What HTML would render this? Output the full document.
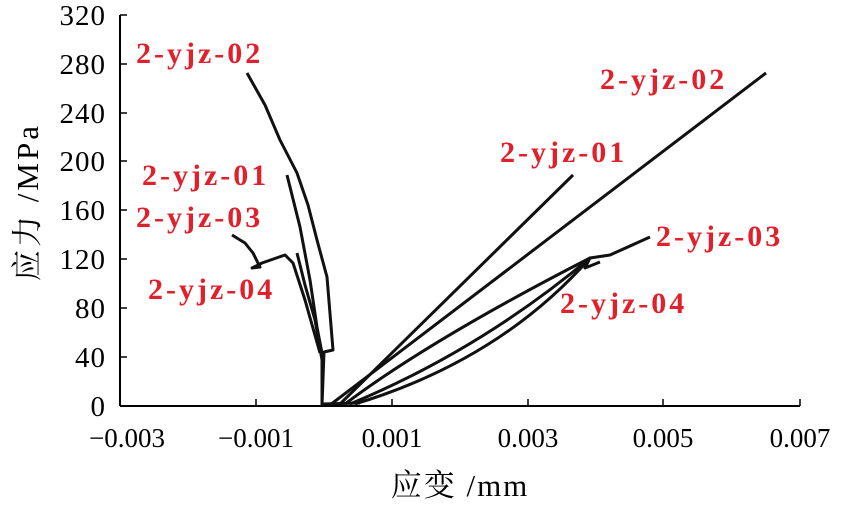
<!DOCTYPE html>
<html><head><meta charset="utf-8"><style>body{margin:0;background:#fff}</style></head><body>
<svg width="842" height="500" xmlns="http://www.w3.org/2000/svg" font-family="Liberation Serif, Noto Serif CJK SC, serif">
<g stroke="#000" stroke-width="2" fill="none">
<line x1="120" y1="15" x2="120" y2="406"/>
<line x1="120" y1="406" x2="800" y2="406"/>
<g stroke-width="1.5">
<line x1="120" y1="15" x2="127" y2="15"/><line x1="120" y1="64" x2="127" y2="64"/><line x1="120" y1="113" x2="127" y2="113"/><line x1="120" y1="161" x2="127" y2="161"/><line x1="120" y1="210" x2="127" y2="210"/><line x1="120" y1="259" x2="127" y2="259"/><line x1="120" y1="308" x2="127" y2="308"/><line x1="120" y1="357" x2="127" y2="357"/>
<line x1="256" y1="406" x2="256" y2="399"/><line x1="392" y1="406" x2="392" y2="399"/><line x1="528" y1="406" x2="528" y2="399"/><line x1="663" y1="406" x2="663" y2="399"/><line x1="800" y1="406" x2="800" y2="399"/>
</g>
</g>
<g stroke="#111" stroke-width="3" fill="none" stroke-linejoin="round">
<polyline points="247,73 265,105 280,140 297,173 308,205 317,240 327,277 333,350 324,352 322,406"/>
<polyline points="287,175 300,227 310,280 317,327 322,353 322,406"/>
<polyline points="232,235 245,243 253,253 260,267 252,268 262,263 285,255 293,263 305,300 320,353"/>
<polyline points="297,253 305,285 315,320 322,360"/>
<polyline points="322,404 360,403"/>
<polyline points="330,405 766,73"/>
<polyline points="340,404 573,175"/>
<path d="M345,404 Q430,340 590,258"/>
<path d="M350,404 Q480,350 590,258 L610,255 L650,237"/>
<path d="M355,404 Q500,360 590,258 L585,268 L600,262"/>
</g>
<g font-size="29" text-anchor="end" letter-spacing="1">
<text x="106" y="25">320</text><text x="106" y="74">280</text><text x="106" y="123">240</text><text x="106" y="171">200</text><text x="106" y="220">160</text><text x="106" y="269">120</text><text x="106" y="318">80</text><text x="106" y="367">40</text><text x="106" y="416">0</text>
</g>
<g font-size="27" text-anchor="middle">
<text x="127" y="447">−0.003</text><text x="256" y="447">−0.001</text><text x="392" y="447">0.001</text><text x="528" y="447">0.003</text><text x="663" y="447">0.005</text><text x="800" y="447">0.007</text>
<text x="460" y="496" font-size="31" letter-spacing="2">应变 /mm</text>
</g>
<text transform="translate(38,202) rotate(-90)" font-size="31" letter-spacing="3" text-anchor="middle">应力 /MPa</text>
<g fill="#e0202a" font-size="30" font-weight="bold" letter-spacing="3">
<text x="136" y="63">2-yjz-02</text>
<text x="142" y="185">2-yjz-01</text>
<text x="136" y="227">2-yjz-03</text>
<text x="148" y="299">2-yjz-04</text>
<text x="600" y="89">2-yjz-02</text>
<text x="500" y="162">2-yjz-01</text>
<text x="656" y="246">2-yjz-03</text>
<text x="560" y="313">2-yjz-04</text>
</g>
</svg>
</body></html>
